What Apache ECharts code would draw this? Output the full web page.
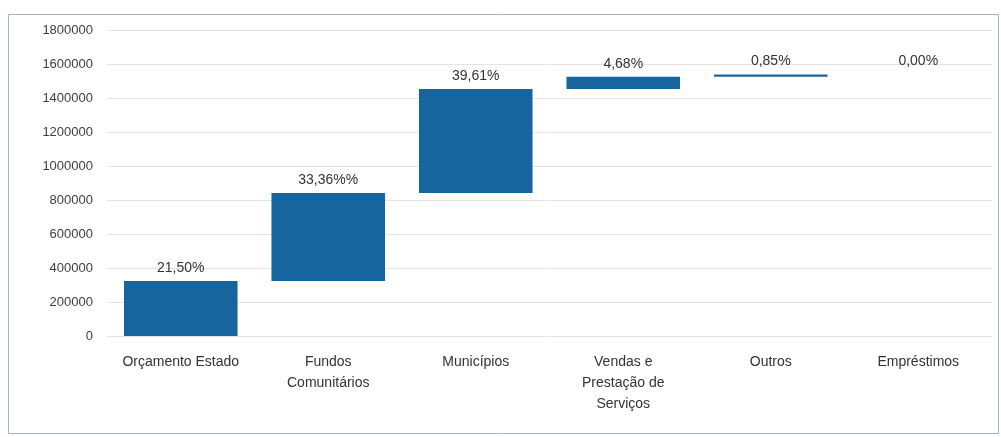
<!DOCTYPE html>
<html>
<head>
<meta charset="utf-8">
<script src="https://cdn.jsdelivr.net/npm/echarts@6/dist/echarts.min.js"></script>
<style>
html,body{margin:0;padding:0;background:#fff;}
#c{width:1001px;height:437px;}
</style>
</head>
<body>
<div id="c"></div>
<script>
var categories = ["Orçamento Estado", "Fundos\nComunitários", "Municípios", "Vendas e\nPrestação de\nServiços", "Outros", "Empréstimos"];
var values = [323500, 517500, 612000, 72000, 12800, 0];
var pctLabels = ["21,50%", "33,36%%", "39,61%", "4,68%", "0,85%", "0,00%"];
var yTickInterval = 200000;
var yMax = 1800000;

var bases = [];
var acc = 0;
for (var i = 0; i < values.length; i++) { bases.push(acc); acc += values[i]; }

var chart = echarts.init(document.getElementById('c'));
chart.setOption({
  animation: false,
  backgroundColor: '#ffffff',
  graphic: [{
    type: 'rect', shape: {x: 8.5, y: 14.5, width: 990, height: 419},
    style: {fill: 'none', stroke: '#a7b4c2', lineWidth: 1}, silent: true
  }],
  grid: {left: 107, right: 9, top: 30, bottom: 101},
  xAxis: {
    type: 'category', data: categories,
    axisLine: {show: false}, axisTick: {show: false},
    axisLabel: {color: '#333333', fontFamily: 'Liberation Sans, Arial, sans-serif', fontSize: 14, lineHeight: 21, margin: 16, interval: 0}
  },
  yAxis: {
    type: 'value', min: 0, max: yMax, interval: yTickInterval,
    axisLine: {show: false}, axisTick: {show: false},
    splitLine: {lineStyle: {color: '#e4e4e4', width: 1}},
    axisLabel: {color: '#404040', fontFamily: 'Liberation Sans, Arial, sans-serif', fontSize: 13, margin: 14,
      formatter: function (v) { return String(v); }}
  },
  series: [{
    type: 'bar', stack: 'w', data: bases,
    itemStyle: {color: 'transparent'}, barWidth: '77%', silent: true
  }, {
    type: 'bar', stack: 'w', data: values, barWidth: '77%',
    itemStyle: {color: '#16659e'},
    label: {
      show: true, position: 'top', distance: 6,
      color: '#333333', fontFamily: 'Liberation Sans, Arial, sans-serif', fontSize: 14,
      formatter: function (p) { return pctLabels[p.dataIndex]; }
    }
  }]
});
</script>
</body>
</html>
